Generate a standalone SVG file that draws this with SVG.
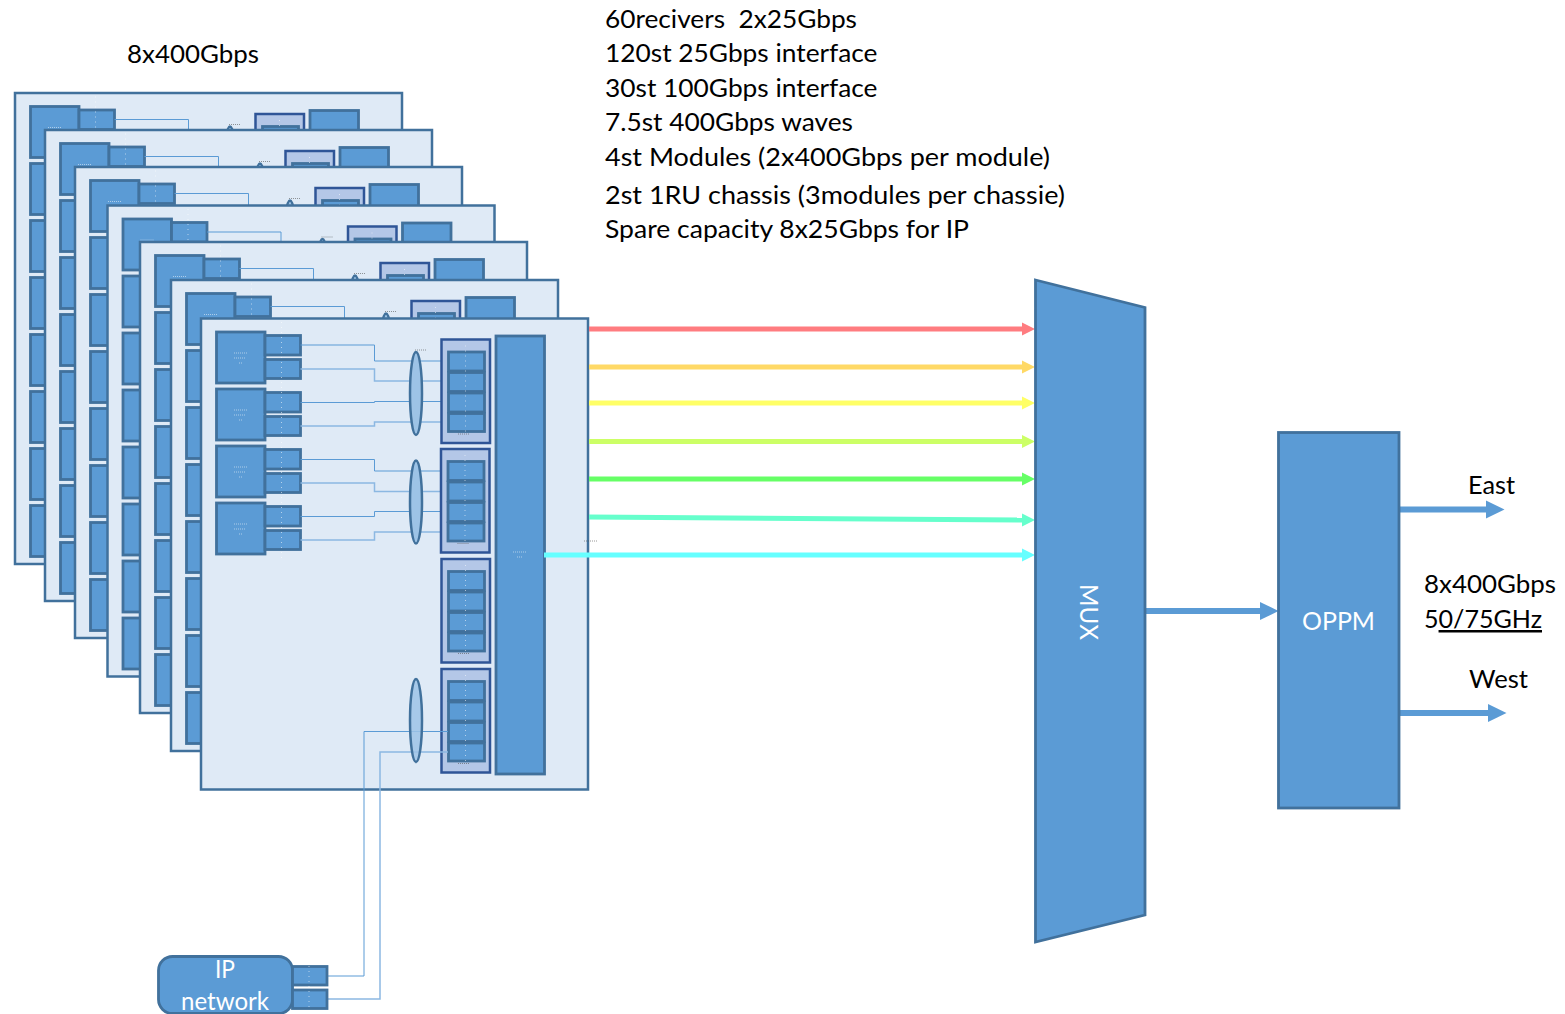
<svg xmlns="http://www.w3.org/2000/svg" xmlns:xlink="http://www.w3.org/1999/xlink" width="1565" height="1014" viewBox="0 0 1565 1014">
<style>
.t{font-family:Lato,"Liberation Sans",sans-serif;font-size:25px;fill:#000}
.w{font-family:Lato,"Liberation Sans",sans-serif;font-size:25px;fill:#fff}
.card{fill:#dfeaf6;stroke:#41719c;stroke-width:2.5}
.box{fill:#5b9bd5;stroke:#41719c;stroke-width:2.8}
.grp{fill:#b4c7e7;stroke:#2f5597;stroke-width:2.5}
.ell{fill:#9dc3e6;stroke:#41719c;stroke-width:2.5}
.l1{fill:none;stroke:#5b9bd5;stroke-width:1}
.l2{fill:none;stroke:#8cb8e2;stroke-width:1.5}
.dot{fill:none;stroke:#fff;stroke-width:1;stroke-dasharray:1 4;opacity:.55}
.mw{fill:none;stroke:#fff;stroke-width:1;stroke-dasharray:1 1;opacity:.5}
.md{fill:none;stroke:#555;stroke-width:1;stroke-dasharray:1 1;opacity:.6}
.a{fill:none;stroke-width:5}
.b{fill:none;stroke:#5b9bd5;stroke-width:6}
</style>
<defs>
<marker id="m1" markerUnits="userSpaceOnUse" markerWidth="14" markerHeight="14" refX="0" refY="7" orient="auto"><path d="M0 0.5L13 7L0 13.5z" fill="#ff7c80"/></marker>
<marker id="m2" markerUnits="userSpaceOnUse" markerWidth="14" markerHeight="14" refX="0" refY="7" orient="auto"><path d="M0 0.5L13 7L0 13.5z" fill="#ffd966"/></marker>
<marker id="m3" markerUnits="userSpaceOnUse" markerWidth="14" markerHeight="14" refX="0" refY="7" orient="auto"><path d="M0 0.5L13 7L0 13.5z" fill="#ffff66"/></marker>
<marker id="m4" markerUnits="userSpaceOnUse" markerWidth="14" markerHeight="14" refX="0" refY="7" orient="auto"><path d="M0 0.5L13 7L0 13.5z" fill="#ccff66"/></marker>
<marker id="m5" markerUnits="userSpaceOnUse" markerWidth="14" markerHeight="14" refX="0" refY="7" orient="auto"><path d="M0 0.5L13 7L0 13.5z" fill="#66ff66"/></marker>
<marker id="m6" markerUnits="userSpaceOnUse" markerWidth="14" markerHeight="14" refX="0" refY="7" orient="auto"><path d="M0 0.5L13 7L0 13.5z" fill="#66ffcc"/></marker>
<marker id="m7" markerUnits="userSpaceOnUse" markerWidth="14" markerHeight="14" refX="0" refY="7" orient="auto"><path d="M0 0.5L13 7L0 13.5z" fill="#66ffff"/></marker>
<marker id="mb" markerUnits="userSpaceOnUse" markerWidth="20" markerHeight="20" refX="0" refY="10" orient="auto"><path d="M0 1L18.5 10L0 19z" fill="#5b9bd5"/></marker>
<g id="module4">
<rect class="grp" x="441.5" y="0" width="48.5" height="103.5"/>
<rect class="box" x="448.5" y="12.5" width="36" height="19"/>
<rect class="box" x="448.5" y="33" width="36" height="19"/>
<rect class="box" x="448.5" y="53.5" width="36" height="19"/>
<rect class="box" x="448.5" y="74" width="36" height="18"/>
<path class="dot" d="M465.5 6V96"/>
<path class="md" d="M458 94.5H470"/>
</g>
<g id="ant">
<rect class="box" x="216.5" y="0" width="48.5" height="51"/>
<rect class="box" x="265" y="3.5" width="35.5" height="19.5"/>
<rect class="box" x="265" y="27.5" width="35.5" height="19"/>
<path class="mw" d="M234 21H247M234 26H246M239 31H242"/>
</g>
<g id="card">
<rect class="card" x="201" y="318.5" width="387" height="471"/>
<use xlink:href="#ant" y="332"/>
<use xlink:href="#ant" y="389"/>
<use xlink:href="#ant" y="446"/>
<use xlink:href="#ant" y="503"/>
<path class="dot" d="M281.5 322V560"/>
<path class="l1" d="M300.5 345H374.5V361H448"/>
<path class="l2" d="M300.5 369H374.5V381H448"/>
<path class="l1" d="M300.5 402.5H374.5V401.5H448"/>
<path class="l2" d="M300.5 426H374.5V422H448"/>
<path class="l1" d="M300.5 459.5H374.5V471H447"/>
<path class="l2" d="M300.5 483H374.5V491.5H447"/>
<path class="l1" d="M300.5 516.5H374.5V511.5H447"/>
<path class="l2" d="M300.5 540H374.5V532H447"/>
<ellipse class="ell" cx="416" cy="393.5" rx="6" ry="41.5"/>
<ellipse class="ell" cx="416" cy="502" rx="6" ry="41.5"/>
<path class="md" d="M415 350H426"/>
<use xlink:href="#module4" y="339.5"/>
<use xlink:href="#module4" x="-0.5" y="449"/>
<use xlink:href="#module4" y="559"/>
<use xlink:href="#module4" y="669"/>
<rect class="box" x="496" y="336" width="48.5" height="438"/>
<path class="mw" d="M513 552H526M517 557H522"/>
<path class="md" d="M584 541H598"/>
</g>
<g id="extra">
<rect class="box" x="216.5" y="560" width="48.5" height="51"/>
<rect class="box" x="216.5" y="617" width="48.5" height="51"/>
<rect class="box" x="216.5" y="674" width="48.5" height="51"/>
<rect class="box" x="216.5" y="731" width="48.5" height="51"/>
</g>
</defs>

<g id="card-1" transform="translate(-186 -225.5)"><use xlink:href="#card"/><use xlink:href="#extra"/></g>
<g id="card-2" transform="translate(-156 -188.5)"><use xlink:href="#card"/><use xlink:href="#extra"/></g>
<g id="card-3" transform="translate(-126 -151.5)"><use xlink:href="#card"/><use xlink:href="#extra"/></g>
<g id="card-4" transform="translate(-93.5 -113)"><use xlink:href="#card"/><use xlink:href="#extra"/></g>
<g id="card-5" transform="translate(-61 -76.5)"><use xlink:href="#card"/><use xlink:href="#extra"/></g>
<g id="card-6" transform="translate(-30 -38.5)"><use xlink:href="#card"/><use xlink:href="#extra"/></g>
<g id="card-7"><use xlink:href="#card"/></g>

<g id="connectors">
<path class="a" stroke="#ff7c80" marker-end="url(#m1)" d="M589 329H1022"/>
<path class="a" stroke="#ffd966" marker-end="url(#m2)" d="M589 367H1022"/>
<path class="a" stroke="#ffff66" marker-end="url(#m3)" d="M589 403H1022"/>
<path class="a" stroke="#ccff66" marker-end="url(#m4)" d="M589 441.5H1022"/>
<path class="a" stroke="#66ff66" marker-end="url(#m5)" d="M589 479H1022"/>
<path class="a" stroke="#66ffcc" marker-end="url(#m6)" d="M589 517L1022 520"/>
<path class="a" stroke="#66ffff" marker-end="url(#m7)" d="M544 555H1022"/>
<path class="b" marker-end="url(#mb)" d="M1145 611H1260"/>
<path class="b" marker-end="url(#mb)" d="M1399 509.5H1486"/>
<path class="b" marker-end="url(#mb)" d="M1399 713H1488"/>
<path class="l1" stroke-width="1.2" d="M327 976H364V731.5H448"/>
<path class="l2" d="M327 999H380V752H448"/>
</g>

<g id="combiner-ip"><ellipse class="ell" cx="416" cy="720.5" rx="6" ry="41.5" fill-opacity=".85"/></g>

<g id="mux">
<polygon class="box" points="1035.5,280 1145,307.5 1145,915 1035.5,942"/>
<text class="w" transform="translate(1080 584) rotate(90)" textLength="56" lengthAdjust="spacingAndGlyphs">MUX</text>
</g>
<g id="oppm">
<rect class="box" x="1278.5" y="432.5" width="120.5" height="375.5"/>
<text class="w" x="1302" y="630" textLength="73" lengthAdjust="spacingAndGlyphs">OPPM</text>
</g>
<g id="ip-network">
<rect class="box" x="158.5" y="956.5" width="134" height="57" rx="14"/>
<rect class="box" x="292.5" y="966.5" width="34.5" height="18.5"/>
<rect class="box" x="292.5" y="990" width="34.5" height="18.5"/>
<path class="dot" d="M309 966V1012"/>
<text class="w" x="215" y="978" textLength="20" lengthAdjust="spacingAndGlyphs">IP</text>
<text class="w" x="181" y="1010" textLength="88" lengthAdjust="spacingAndGlyphs">network</text>
</g>

<g id="labels">
<text class="t" x="127" y="62.5" textLength="132" lengthAdjust="spacingAndGlyphs">8x400Gbps</text>
<text class="t" x="605" y="27.5" textLength="252" lengthAdjust="spacingAndGlyphs" xml:space="preserve">60recivers  2x25Gbps</text>
<text class="t" x="605" y="61.5" textLength="272.5" lengthAdjust="spacingAndGlyphs">120st 25Gbps interface</text>
<text class="t" x="605" y="96.5" textLength="272.5" lengthAdjust="spacingAndGlyphs">30st 100Gbps interface</text>
<text class="t" x="605" y="130.5" textLength="248" lengthAdjust="spacingAndGlyphs">7.5st 400Gbps waves</text>
<text class="t" x="605" y="165.5" textLength="445" lengthAdjust="spacingAndGlyphs">4st Modules (2x400Gbps per module)</text>
<text class="t" x="605" y="203.5" textLength="460" lengthAdjust="spacingAndGlyphs">2st 1RU chassis (3modules per chassie)</text>
<text class="t" x="605" y="237.5" textLength="364" lengthAdjust="spacingAndGlyphs">Spare capacity 8x25Gbps for IP</text>
<text class="t" x="1468" y="494" textLength="47" lengthAdjust="spacingAndGlyphs">East</text>
<text class="t" x="1469" y="688" textLength="59" lengthAdjust="spacingAndGlyphs">West</text>
<text class="t" x="1424" y="593" textLength="132" lengthAdjust="spacingAndGlyphs">8x400Gbps</text>
<text class="t" x="1424" y="628" textLength="118" lengthAdjust="spacingAndGlyphs">5<tspan text-decoration="underline">0/75GHz</tspan></text>
</g>
</svg>
